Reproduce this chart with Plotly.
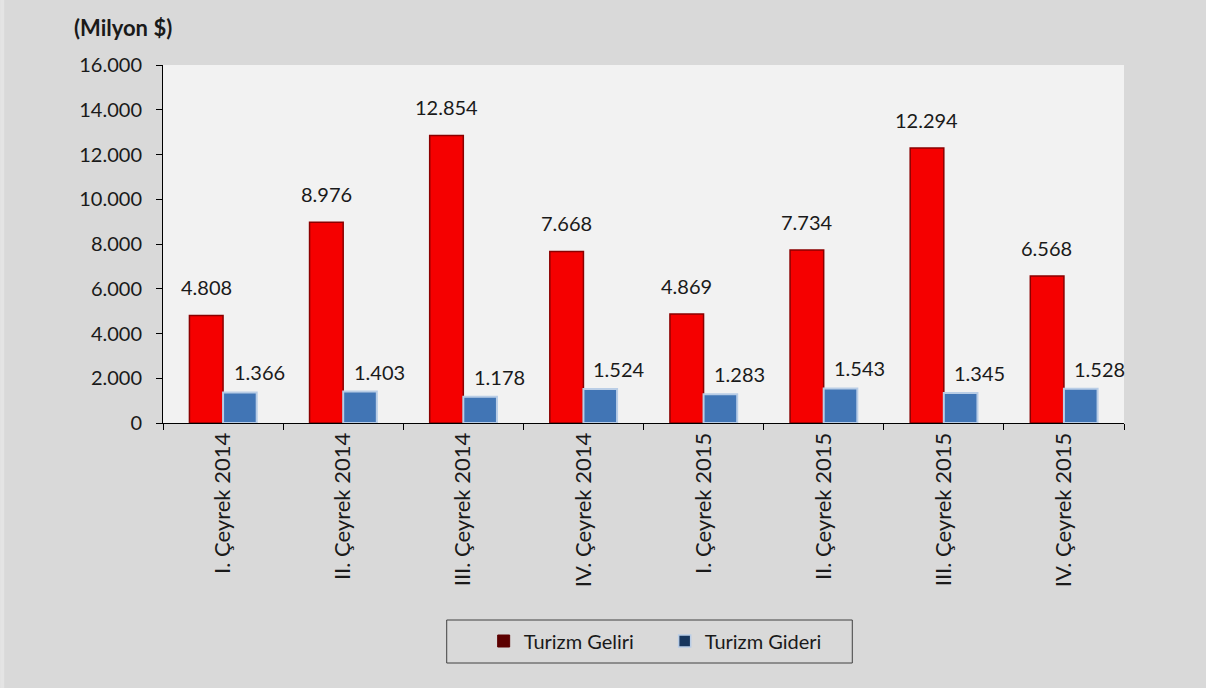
import plotly.graph_objects as go

categories = ["I. Çeyrek 2014", "II. Çeyrek 2014", "III. Çeyrek 2014", "IV. Çeyrek 2014",
              "I. Çeyrek 2015", "II. Çeyrek 2015", "III. Çeyrek 2015", "IV. Çeyrek 2015"]
gelir = [4808, 8976, 12854, 7668, 4869, 7734, 12294, 6568]
gider = [1366, 1403, 1178, 1524, 1283, 1543, 1345, 1528]
series_names = ["Turizm Geliri", "Turizm Gideri"]

FONT = "Lato"
TXT = "#1a1a1a"

def fmt(v):
    return f"{v:,}".replace(",", ".")

fig = go.Figure()
fig.add_trace(go.Bar(x=categories, y=gelir, name=series_names[0], showlegend=False,
                     marker=dict(color="#f50000", line=dict(color="#8a0000", width=1.5))))
fig.add_trace(go.Bar(x=categories, y=gider, name=series_names[1], showlegend=False,
                     marker=dict(color="#4175b5", line=dict(color="#b9cde6", width=2))))

# legend-only swatches
fig.add_trace(go.Scatter(x=[None], y=[None], mode="markers", name=series_names[0],
                         marker=dict(symbol="square", size=12, color="#5c0000",
                                     line=dict(color="#5c0000", width=1))))
fig.add_trace(go.Scatter(x=[None], y=[None], mode="markers", name=series_names[1],
                         marker=dict(symbol="square", size=12, color="#17365d",
                                     line=dict(color="#b9cde6", width=1.5))))

annotations = []
for c, v in zip(categories, gelir):
    annotations.append(dict(x=c, y=v, text=fmt(v), showarrow=False, xref="x", yref="y",
                            xshift=-17, yshift=14, yanchor="bottom",
                            font=dict(family=FONT, size=20, color=TXT)))
for c, v in zip(categories, gider):
    annotations.append(dict(x=c, y=v, text=fmt(v), showarrow=False, xref="x", yref="y",
                            xshift=36, yshift=6, yanchor="bottom",
                            font=dict(family=FONT, size=20, color=TXT)))
annotations.append(dict(x=(72 - 163) / 962, y=(423 - 28) / 358, xref="paper", yref="paper",
                        xanchor="left", yanchor="middle", text="<b>(Milyon $)</b>",
                        showarrow=False, font=dict(family=FONT, size=22, color=TXT)))

fig.update_layout(
    width=1206, height=688,
    margin=dict(l=163, r=82, t=65, b=265),
    paper_bgcolor="#d9d9d9", plot_bgcolor="#f2f2f2",
    barmode="group", bargap=0.44, bargroupgap=0,
    separators=",.",
    font=dict(family=FONT, size=20, color=TXT),
    annotations=annotations,
    xaxis=dict(showline=True, linecolor="black", linewidth=1, ticks="outside", ticklen=6,
               tickcolor="black", tickson="boundaries", tickangle=-90, showgrid=False,
               tickfont=dict(family=FONT, size=22, color=TXT), range=[-0.5, 7.5]),
    yaxis=dict(range=[0, 16000], dtick=2000, tickformat=",d", showline=True, linecolor="black",
               linewidth=1, ticks="outside", ticklen=6, tickcolor="black", showgrid=False,
               zeroline=False, tickfont=dict(family=FONT, size=20, color=TXT),
               ticklabelstandoff=10),
    legend=dict(orientation="h", x=(484 - 163) / 962, xanchor="left",
                y=(423 - 641) / 358, yanchor="middle", bgcolor="rgba(0,0,0,0)",
                font=dict(family=FONT, size=20, color=TXT), entrywidth=136,
                itemwidth=30),
    shapes=[dict(type="rect", xref="paper", yref="paper",
                 x0=(447 - 163) / 962, x1=(853 - 163) / 962,
                 y0=(423 - 620) / 358, y1=(423 - 663) / 358,
                 line=dict(color="#404040", width=1), fillcolor="rgba(0,0,0,0)"),
            dict(type="rect", xref="paper", yref="paper", layer="below",
                 x0=(0 - 163) / 962, x1=(4 - 163) / 962,
                 y0=(423 - 0) / 358, y1=(423 - 688) / 358,
                 line=dict(width=0), fillcolor="#e4e4e4")],
)

fig.write_html("out.html", config={"displayModeBar": False},
               post_script="document.body.style.margin='0';")
